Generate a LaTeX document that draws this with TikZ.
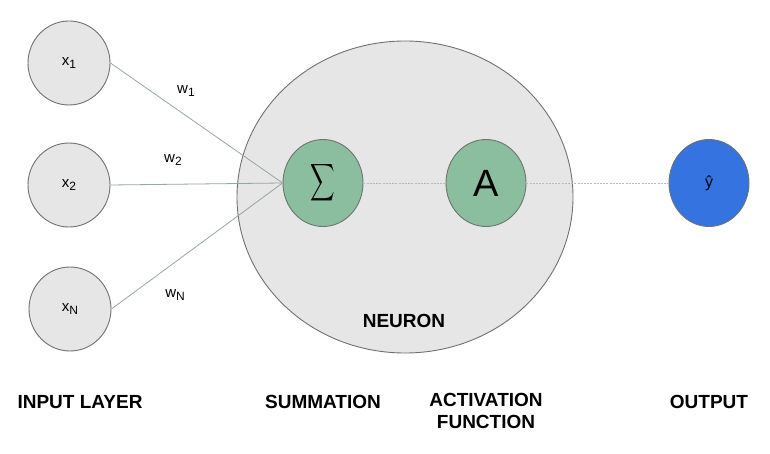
\documentclass[tikz,border=0pt]{standalone}
\usepackage{fontspec}
\usepackage{graphicx}
\setmainfont{Liberation Sans}
\usetikzlibrary{shapes.geometric}
\definecolor{cfill}{HTML}{E6E6E6}
\definecolor{cedge}{HTML}{6E736F}
\definecolor{cgreen}{HTML}{8ABE9F}
\definecolor{cblue}{HTML}{3473E0}
\definecolor{cline}{HTML}{94A89B}
\tikzset{
  inputnode/.style={ellipse, draw=cedge, fill=cfill, line width=0.9pt, minimum width=82pt, minimum height=84pt, inner sep=0pt, font=\fontsize{15}{15}\selectfont},
  opnode/.style={ellipse, draw=cedge, fill=cgreen, line width=0.9pt, minimum width=80pt, minimum height=87pt, inner sep=0pt},
  outnode/.style={ellipse, draw=cedge, fill=cblue, line width=0.9pt, minimum width=80pt, minimum height=87pt, inner sep=0pt, font=\fontsize{16}{16}\selectfont},
  neuronnode/.style={ellipse, draw=cedge, fill=cfill, line width=0.9pt, minimum width=336pt, minimum height=312pt, inner sep=0pt},
  wire/.style={draw=cline, line width=0.8pt},
  dotwire/.style={draw=gray!55, line width=0.7pt, dash pattern=on 2pt off 1.2pt},
  caption/.style={font=\fontsize{19}{22}\selectfont\bfseries, align=center, inner sep=0pt},
  wlabel/.style={font=\fontsize{15}{15}\selectfont, inner sep=0pt}
}
\newcommand{\sbs}[1]{\raisebox{-0.45ex}{\fontsize{12}{12}\selectfont #1}}
\begin{document}
\begin{tikzpicture}[x=1pt,y=-1pt]
\useasboundingbox (0,0) rectangle (770,454);
\node[neuronnode] (neuron) at (405,197) {};
\node[inputnode] (x1) at (69,63) {x\sbs{1}};
\node[inputnode] (x2) at (69,185) {x\sbs{2}};
\node[inputnode] (xn) at (70,309) {x\sbs{N}};
\node[opnode] (sig) at (323,183) {\scalebox{1.7}[2.6]{$\displaystyle\sum$}};
\node[opnode] (act) at (486,183) {\fontsize{38}{38}\selectfont A};
\node[outnode] (out) at (709,183) {ŷ};
\draw[wire] (x1.east) -- (sig.west);
\draw[wire] (x2.east) -- (sig.west);
\draw[wire] (xn.east) -- (sig.west);
\draw[dotwire] (sig.east) -- (act.west);
\draw[dotwire] (act.east) -- (out.west);
\node[wlabel] (w1) at (186,91) {w\sbs{1}};
\node[wlabel] (w2) at (173,160) {w\sbs{2}};
\node[wlabel] (wn) at (175,295) {w\sbs{N}};
\node[caption] (neurlab) at (404,321) {NEURON};
\node[caption] (inlab) at (80,402) {INPUT LAYER};
\node[caption] (sumlab) at (323,402) {SUMMATION};
\node[caption, anchor=north] (actlab) at (486,393) {ACTIVATION\\FUNCTION};
\node[caption] (outlab) at (709,402) {OUTPUT};
\end{tikzpicture}
\end{document}
